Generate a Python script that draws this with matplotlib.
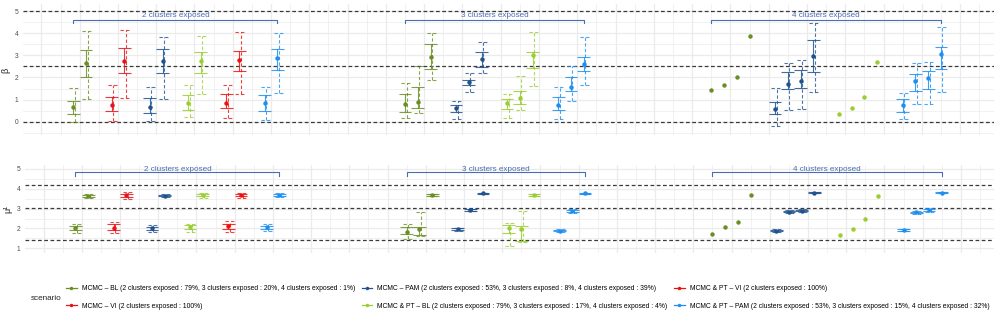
import numpy as np
import matplotlib
matplotlib.use("Agg")
import matplotlib.pyplot as plt
from matplotlib.lines import Line2D

plt.rcParams['font.family'] = ['Liberation Sans', 'DejaVu Sans']

# scenarios, in legend / plotting order
scenarios = [
    "MCMC – BL (2 clusters exposed : 79%, 3 clusters exposed : 20%, 4 clusters exposed : 1%)",
    "MCMC – VI (2 clusters exposed : 100%)",
    "MCMC – PAM (2 clusters exposed : 53%, 3 clusters exposed : 8%, 4 clusters exposed : 39%)",
    "MCMC & PT – BL (2 clusters exposed : 79%, 3 clusters exposed : 17%, 4 clusters exposed : 4%)",
    "MCMC & PT – VI (2 clusters exposed : 100%)",
    "MCMC & PT – PAM (2 clusters exposed : 53%, 3 clusters exposed : 15%, 4 clusters exposed : 32%)",
]
colors = ["#6B8E23", "#E5141B", "#1F528F", "#9ACD32", "#EE1010", "#1E8FF0"]

groups = ["2 clusters exposed", "3 clusters exposed", "4 clusters exposed"]
group_scen = [[0, 1, 2, 3, 4, 5], [0, 2, 3, 5], [0, 2, 3, 5]]
group_start = [0, 26, 50]

# beta : estimate, 50% interval, 95% interval (one row per scenario in the group)
beta2_mid = [[0.68, 2.64], [0.74, 2.76], [0.68, 2.74], [0.86, 2.76], [0.86, 2.79], [0.83, 2.86]]
beta2_lo50 = [[0.33, 2.00], [0.48, 2.18], [0.38, 2.18], [0.53, 2.21], [0.63, 2.29], [0.48, 2.34]]
beta2_hi50 = [[0.93, 3.24], [1.10, 3.34], [1.08, 3.27], [1.21, 3.16], [1.24, 3.19], [1.21, 3.28]]
beta2_lo95 = [[-0.02, 1.01], [0.05, 1.08], [0.05, 1.03], [0.20, 1.24], [0.18, 1.24], [0.08, 1.31]]
beta2_hi95 = [[1.54, 4.11], [1.66, 4.14], [1.58, 3.81], [1.66, 3.88], [1.66, 4.07], [1.58, 3.99]]

beta3_mid = [[0.80, 0.90, 2.94], [0.60, 1.81, 2.82], [0.83, 1.08, 3.01], [0.75, 1.58, 2.59]]
beta3_lo50 = [[0.45, 0.63, 2.37], [0.45, 1.66, 2.48], [0.57, 0.80, 2.41], [0.53, 1.40, 2.29]]
beta3_hi50 = [[1.24, 1.55, 3.49], [0.74, 1.88, 3.16], [1.03, 1.40, 3.16], [1.10, 2.03, 2.94]]
beta3_lo95 = [[0.15, 0.38, 1.88], [0.12, 1.36, 2.18], [0.15, 0.53, 1.61], [0.12, 0.95, 1.66]]
beta3_hi95 = [[1.73, 2.52, 4.02], [0.93, 2.18, 3.61], [1.25, 2.08, 4.04], [1.55, 2.52, 3.84]]

beta4_mid = [[1.43, 1.66, 2.02, 3.88], [0.57, 1.70, 1.85, 2.97], [0.35, 0.60, 1.13, 2.70], [0.74, 1.85, 1.99, 3.06]]
beta4_lo50 = [None, [0.33, 1.46, 1.54, 2.26], None, [0.45, 1.40, 1.48, 2.37]]
beta4_hi50 = [None, [0.88, 2.26, 2.34, 3.69], None, [1.03, 2.15, 2.30, 3.39]]
beta4_lo95 = [None, [-0.19, 0.53, 0.57, 1.36], None, [0.12, 0.79, 0.79, 1.33]]
beta4_hi95 = [None, [1.51, 2.64, 2.79, 4.44], None, [1.28, 2.64, 2.71, 4.26]]

# mu^1
mu2_mid = [[2.01, 3.64], [2.04, 3.69], [2.01, 3.66], [2.06, 3.67], [2.11, 3.69], [2.06, 3.69]]
mu2_lo50 = [[1.92, 3.58], [1.90, 3.60], [1.94, 3.62], [1.96, 3.62], [1.98, 3.63], [1.98, 3.65]]
mu2_hi50 = [[2.12, 3.70], [2.20, 3.76], [2.09, 3.70], [2.16, 3.72], [2.24, 3.75], [2.12, 3.72]]
mu2_lo95 = [[1.79, 3.52], [1.76, 3.49], [1.84, 3.57], [1.80, 3.56], [1.80, 3.56], [1.86, 3.60]]
mu2_hi95 = [[2.22, 3.76], [2.34, 3.84], [2.18, 3.75], [2.24, 3.78], [2.36, 3.80], [2.20, 3.77]]

mu3_mid = [[1.84, 1.96, 3.69], [1.96, 2.93, 3.77], [2.01, 1.96, 3.69], [1.89, 2.90, 3.77]]
mu3_lo50 = [[1.71, 1.67, 3.66], [1.92, 2.90, 3.75], [1.76, 1.37, 3.66], [1.85, 2.85, 3.75]]
mu3_hi50 = [[2.09, 2.09, 3.72], [2.00, 2.96, 3.79], [2.18, 2.12, 3.72], [1.93, 2.95, 3.79]]
mu3_lo95 = [[1.45, 1.60, 3.63], [1.88, 2.88, 3.74], [1.12, 1.30, 3.63], [1.82, 2.78, 3.73]]
mu3_hi95 = [[2.21, 2.82, 3.75], [2.04, 2.98, 3.80], [2.30, 2.88, 3.75], [1.96, 3.00, 3.81]]

mu4_mid = [[1.72, 2.06, 2.34, 3.69], [1.89, 2.85, 2.90, 3.81], [1.67, 1.99, 2.48, 3.66], [1.92, 2.82, 2.93, 3.81]]
mu4_lo50 = [None, [1.85, 2.81, 2.87, 3.79], None, [1.88, 2.79, 2.89, 3.79]]
mu4_hi50 = [None, [1.93, 2.89, 2.93, 3.83], None, [1.96, 2.85, 2.97, 3.83]]
mu4_lo95 = [None, [1.81, 2.77, 2.83, 3.77], None, [1.85, 2.75, 2.85, 3.77]]
mu4_hi95 = [None, [1.97, 2.93, 2.97, 3.85], None, [1.99, 2.89, 3.01, 3.85]]

beta_hlines = [0, 2.5, 5]
mu_hlines = [1.4, 3.05, 4.2]

W, H = 996, 321
fig = plt.figure(figsize=(W / 100, H / 100), dpi=100)


def px_axes(left, right, top, bottom):
    return fig.add_axes([left / W, 1 - bottom / H, (right - left) / W, (bottom - top) / H])


ax1 = px_axes(23, 994, 4.4, 135)
ax2 = px_axes(25, 994, 165, 253)
ax1.set_xlim(-3.94, 72.16)
ax1.set_ylim(-0.60, 5.30)
ax2.set_xlim(-3.96, 72.10)
ax2.set_ylim(0.763, 5.2)

blue_txt = "#4A6CB3"


def style(ax, yticks):
    for s in ax.spines.values():
        s.set_visible(False)
    xs = np.arange(-4, 73, 1.5)
    for i, g in enumerate(xs):
        ax.axvline(g, color="#EBEBEB", lw=0.9 if i % 2 else 0.5, zorder=0)
    lo, hi = ax.get_ylim()
    for v in np.arange(np.floor(lo), np.ceil(hi) + 0.5, 0.5):
        ax.axhline(v, color="#EBEBEB", lw=0.9 if v == int(v) else 0.5, zorder=0)
    ax.set_xticks([])
    ax.set_yticks(yticks)
    ax.tick_params(axis="y", length=0, pad=3.2, labelsize=4.8, labelcolor="#4D4D4D")


style(ax1, [0, 1, 2, 3, 4, 5])
style(ax2, [1, 2, 3, 4, 5])


def draw_group(ax, gi, mid, lo50, hi50, lo95, hi95):
    ncomp = len(mid[0])
    for k, si in enumerate(group_scen[gi]):
        col = colors[si]
        x0 = group_start[gi] + k * (ncomp + 1)
        xs = x0 + np.arange(ncomp)
        if lo50[k] is not None:
            ax.vlines(xs + 0.12, lo95[k], hi95[k], color=col, lw=0.8, alpha=0.8,
                      linestyles=(0, (3, 2)), zorder=2)
            for y in (lo95[k], hi95[k]):
                ax.hlines(y, xs - 0.3, xs + 0.45, color=col, lw=0.8, alpha=0.8,
                          linestyles=(0, (3, 2)), zorder=2)
            ax.vlines(xs, lo50[k], hi50[k], color=col, lw=0.8, alpha=0.85, zorder=3)
            for y in (lo50[k], hi50[k]):
                ax.hlines(y, xs - 0.5, xs + 0.5, color=col, lw=0.8, alpha=0.85, zorder=3)
        ax.plot(xs, mid[k], "o", color=col, ms=3.2, mec="none", zorder=4)


draw_group(ax1, 0, beta2_mid, beta2_lo50, beta2_hi50, beta2_lo95, beta2_hi95)
draw_group(ax1, 1, beta3_mid, beta3_lo50, beta3_hi50, beta3_lo95, beta3_hi95)
draw_group(ax1, 2, beta4_mid, beta4_lo50, beta4_hi50, beta4_lo95, beta4_hi95)
draw_group(ax2, 0, mu2_mid, mu2_lo50, mu2_hi50, mu2_lo95, mu2_hi95)
draw_group(ax2, 1, mu3_mid, mu3_lo50, mu3_hi50, mu3_lo95, mu3_hi95)
draw_group(ax2, 2, mu4_mid, mu4_lo50, mu4_hi50, mu4_lo95, mu4_hi95)

for ax, lines in ((ax1, beta_hlines), (ax2, mu_hlines)):
    for v in lines:
        ax.axhline(v, color="#3A3A3A", lw=0.9, ls=(0, (3, 2)), zorder=1)


def brackets(ax, ytxt, ybar, ytick):
    for gi, name in enumerate(groups):
        ncomp = gi + 2
        n = len(group_scen[gi])
        x_first = group_start[gi]
        x_last = group_start[gi] + (n - 1) * (ncomp + 1) + ncomp - 1
        ax.plot([x_first, x_first, x_last, x_last], [ytick, ybar, ybar, ytick],
                color=blue_txt, lw=0.8, zorder=5)
        ax.text((x_first + x_last) / 2, ytxt, name, ha="center", va="center",
                fontsize=5.9, color=blue_txt, zorder=6)


brackets(ax1, 4.82, 4.59, 4.44)
brackets(ax2, 4.97, 4.83, 4.65)

fig.text(6 / W, 1 - 70 / H, "β", rotation=90, ha="center", va="center", fontsize=6.5, color="#222222")
fig.text(8 / W, 1 - 209 / H, "μ¹", rotation=90, ha="center", va="center", fontsize=6.5, color="#222222")

handles = [Line2D([0], [0], color=c, lw=0.9, marker="o", ms=2.5, mec="none") for c in colors]
fig.legend(handles, scenarios, loc="center left", bbox_to_anchor=(66 / W, 1 - 297.5 / H),
           ncol=3, frameon=False, fontsize=4.85, handlelength=1.6, handletextpad=0.72,
           columnspacing=1.0, labelspacing=1.55, borderpad=0, borderaxespad=0)
fig.text(31 / W, 1 - 298 / H, "scenario", ha="left", va="center", fontsize=5.9, color="#222222")

fig.savefig("out.png", dpi=100)
